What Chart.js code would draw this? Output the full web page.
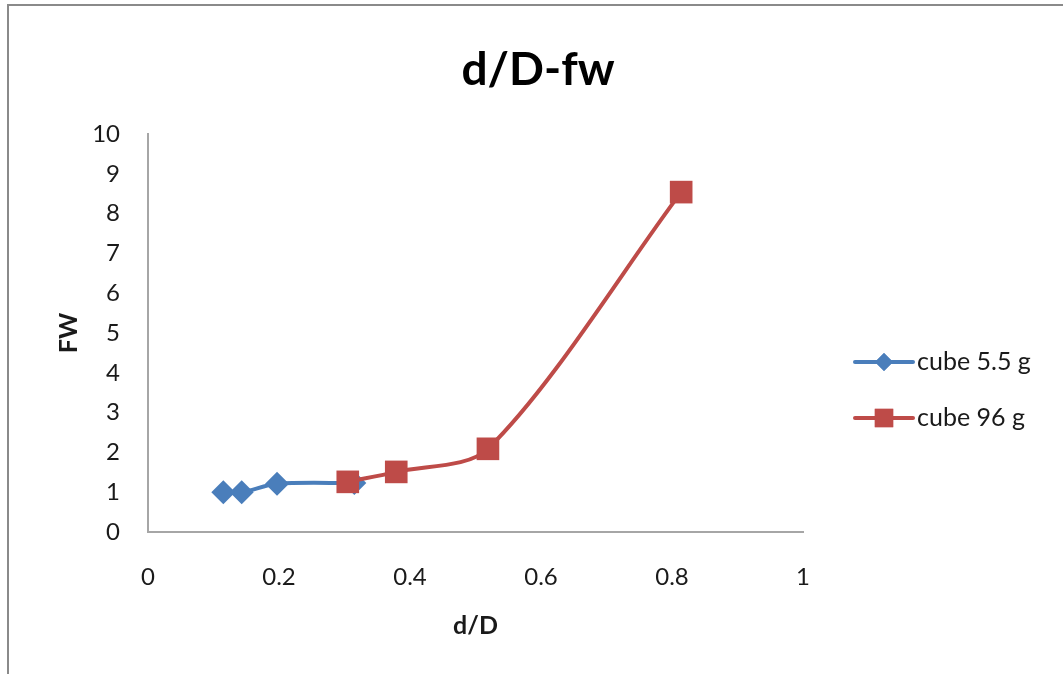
<!DOCTYPE html>
<html>
<head>
<meta charset="utf-8">
<script src="https://cdn.jsdelivr.net/npm/chart.js@4"></script>
<style>
  html, body { margin: 0; padding: 0; background: #fff; }
  #wrap { position: relative; width: 1063px; height: 674px; overflow: hidden; }
  #frame { position: absolute; left: 7px; top: 4px; width: 1100px; height: 700px;
           border-left: 2px solid #8a8a8a; border-top: 2px solid #8a8a8a; }
  canvas { position: absolute; left: 0; top: 0; }
</style>
</head>
<body>
<div id="wrap">
  <div id="frame"></div>
  <canvas id="c" width="1063" height="674"></canvas>
</div>
<script>
// donnees
const chartTitle = 'd/D-fw';
const seriesNames = ['cube 5.5 g', 'cube 96 g'];
const smallX = [0.115, 0.143, 0.197, 0.315];
const smallY = [1.0, 1.0, 1.21, 1.23];
const bigX = [0.305, 0.379, 0.519, 0.814];
const bigY = [1.26, 1.51, 2.09, 8.54];
const xTicks = [0, 0.2, 0.4, 0.6, 0.8, 1];
const yTicks = [0, 1, 2, 3, 4, 5, 6, 7, 8, 9, 10];

const blue = '#4a7ebb';
const red = '#be4b48';
const fontFamily = 'Lato, "Open Sans", sans-serif';

function toPoints(xs, ys) {
  return xs.map((x, i) => ({ x: x, y: ys[i] }));
}

// titre centre sur toute la largeur + legende facon Excel (ligne + marqueur)
const excelDecor = {
  id: 'excelDecor',
  afterDraw(chart) {
    const ctx = chart.ctx;
    ctx.save();
    ctx.fillStyle = '#000';
    ctx.font = 'bold 46px ' + fontFamily;
    ctx.textAlign = 'center';
    ctx.textBaseline = 'middle';
    ctx.fillText(chartTitle, 538, 70);

    const items = [
      { label: seriesNames[0], color: blue, style: 'rectRot', radius: 9, y: 362 },
      { label: seriesNames[1], color: red, style: 'rect', radius: 13, y: 418 }
    ];
    items.forEach(it => {
      ctx.strokeStyle = it.color;
      ctx.lineWidth = 4;
      ctx.lineCap = 'round';
      ctx.beginPath();
      ctx.moveTo(855, it.y);
      ctx.lineTo(913, it.y);
      ctx.stroke();
      ctx.fillStyle = it.color;
      Chart.helpers.drawPoint(ctx, { pointStyle: it.style, radius: it.radius, borderWidth: 0 }, 884, it.y);
      ctx.fill();
      ctx.fillStyle = '#1a1a1a';
      ctx.font = '25px ' + fontFamily;
      ctx.textBaseline = 'middle';
      ctx.textAlign = 'left';
      ctx.fillText(it.label, 917, it.y);
    });
    ctx.restore();
  }
};

new Chart(document.getElementById('c'), {
  type: 'scatter',
  data: {
    datasets: [
      {
        label: seriesNames[0],
        data: toPoints(smallX, smallY),
        order: 1,
        showLine: true,
        borderColor: blue,
        backgroundColor: blue,
        borderWidth: 4,
        tension: 0.3,
        pointStyle: 'rectRot',
        pointRadius: 12,
        pointHoverRadius: 12,
        pointBorderWidth: 0
      },
      {
        label: seriesNames[1],
        data: toPoints(bigX, bigY),
        order: 0,
        showLine: true,
        borderColor: red,
        backgroundColor: red,
        borderWidth: 4,
        tension: 0.3,
        pointStyle: 'rect',
        pointRadius: 16,
        pointHoverRadius: 16,
        pointBorderWidth: 0
      }
    ]
  },
  options: {
    responsive: false,
    animation: false,
    layout: { padding: { left: 50, right: 260, top: 134, bottom: 30 } },
    plugins: {
      legend: { display: false },
      tooltip: { enabled: false },
      title: { display: false }
    },
    scales: {
      x: {
        type: 'linear',
        min: 0,
        max: 1,
        afterBuildTicks: s => { s.ticks = xTicks.map(v => ({ value: v })); },
        afterFit: s => { s.height = 112; },
        grid: { display: false, drawTicks: false },
        border: { display: true, color: '#a6a6a6', width: 2 },
        ticks: {
          color: '#1a1a1a',
          padding: 31,
          font: { family: fontFamily, size: 24 },
          callback: v => String(v)
        },
        title: {
          display: true,
          text: 'd/D',
          color: '#1a1a1a',
          font: { family: fontFamily, size: 25, weight: 'bold' },
          padding: { top: 4, bottom: 3 }
        }
      },
      y: {
        min: 0,
        max: 10,
        afterBuildTicks: s => { s.ticks = yTicks.map(v => ({ value: v })); },
        afterFit: s => { s.width = 98; },
        grid: { display: false, drawTicks: false },
        border: { display: true, color: '#a6a6a6', width: 2 },
        ticks: {
          color: '#1a1a1a',
          padding: 28,
          font: { family: fontFamily, size: 24 },
          callback: v => String(v)
        },
        title: {
          display: true,
          text: 'FW',
          color: '#1a1a1a',
          font: { family: fontFamily, size: 25, weight: 'bold' },
          padding: { top: 4, bottom: 4 }
        }
      }
    }
  },
  plugins: [excelDecor]
});
</script>
</body>
</html>
